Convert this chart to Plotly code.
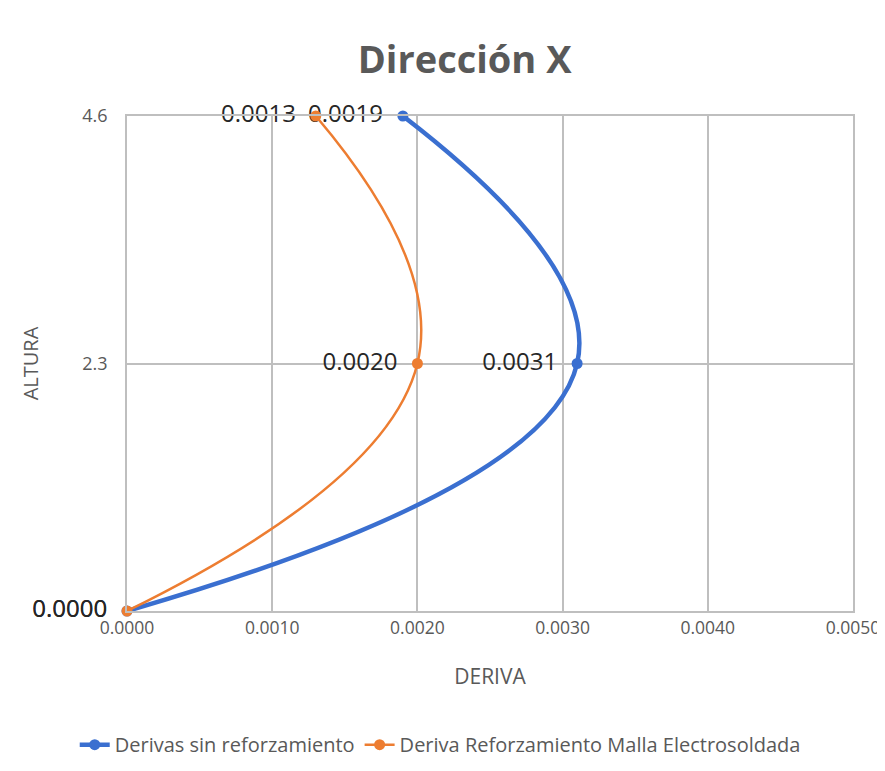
import plotly.graph_objects as go

altura = [0.0, 2.3, 4.6]
deriva_sin = [0.0, 0.0031, 0.0019]
deriva_malla = [0.0, 0.0020, 0.0013]
labels_sin = ["0.0000", "0.0031", "0.0019"]
labels_malla = ["0.0000", "0.0020", "0.0013"]
x_ticks = [0.0, 0.001, 0.002, 0.003, 0.004, 0.005]
x_ticklabels = ["0.0000", "0.0010", "0.0020", "0.0030", "0.0040", "0.0050"]
y_ticks = [2.3, 4.6]
y_ticklabels = ["2.3", "4.6"]

FONT = "Open Sans"
GRID = "#bfbfbf"
PAD = "\u2002"

fig = go.Figure()
fig.add_trace(go.Scatter(
    x=deriva_sin, y=altura, mode="lines+markers+text",
    name="Derivas sin reforzamiento",
    line=dict(color="#3a6fd0", width=4.5, shape="spline", smoothing=1.3),
    marker=dict(size=11, color="#3a6fd0"),
    text=[t + PAD for t in labels_sin], textposition="middle left",
    textfont=dict(size=24, color="#262626", family=FONT),
    cliponaxis=False,
))
fig.add_trace(go.Scatter(
    x=deriva_malla, y=altura, mode="lines+markers+text",
    name="Deriva Reforzamiento Malla Electrosoldada",
    line=dict(color="#ed7d31", width=2.5, shape="spline", smoothing=1.3),
    marker=dict(size=11, color="#ed7d31"),
    text=[t + PAD for t in labels_malla], textposition="middle left",
    textfont=dict(size=24, color="#262626", family=FONT),
    cliponaxis=False,
))

fig.update_layout(
    width=885, height=771,
    margin=dict(l=119, r=40, t=108, b=168),
    paper_bgcolor="white", plot_bgcolor="white",
    font=dict(family=FONT, color="#595959"),
    title=dict(text="<b>Dirección X</b>", x=0.516, xanchor="center",
               y=0.933, yanchor="middle",
               font=dict(size=38, color="#595959", family=FONT)),
    xaxis=dict(
        range=[0, 0.005], tickvals=x_ticks, ticktext=x_ticklabels,
        showgrid=True, gridcolor=GRID, gridwidth=1.5, zeroline=False,
        showline=True, linecolor=GRID, linewidth=1.5, mirror=True,
        ticks="", tickfont=dict(size=17.5, color="#595959"), automargin=False,
        title=dict(text="DERIVA", font=dict(size=21, color="#595959"), standoff=32),
    ),
    yaxis=dict(
        range=[0, 4.6], tickvals=y_ticks, ticktext=y_ticklabels,
        showgrid=True, gridcolor=GRID, gridwidth=1.5, zeroline=False,
        showline=True, linecolor=GRID, linewidth=1.5, mirror=True,
        ticks="", tickfont=dict(size=18, color="#595959"), ticklabelstandoff=14,
        automargin=False,
        title=dict(text="ALTURA", font=dict(size=20, color="#595959"), standoff=38),
    ),
    legend=dict(orientation="h", x=-0.072, xanchor="left", y=-0.27, yanchor="middle",
                font=dict(size=20, color="#595959"), itemwidth=30),
    showlegend=True,
)

fig.write_html("out.html")
